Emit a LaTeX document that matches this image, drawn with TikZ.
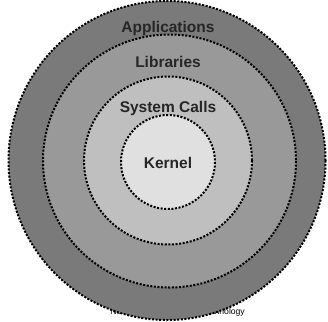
\documentclass[tikz,border=0pt]{standalone}
\usepackage{fontspec}
\setmainfont{Liberation Sans}
\begin{document}
\begin{tikzpicture}[x=1pt,y=-1pt,
  ring/.style={draw=black,line width=2pt,dash pattern=on 2pt off 1.6pt},
  lab/.style={font=\bfseries\fontsize{15.5}{18}\selectfont,text=black!85}]
\useasboundingbox (0,0) rectangle (328,321);
\node[font=\fontsize{8.6}{9}\selectfont,anchor=base east,inner sep=0pt] (foot) at (245,314) {Network and Computer Technology};
\filldraw[ring,fill=black!52] (167,160.5) ellipse [x radius=158.5,y radius=159.5];
\filldraw[ring,fill=black!40] (169.5,161) circle (126.5);
\filldraw[ring,fill=black!25] (168,160.5) circle (84);
\filldraw[ring,fill=black!12] (168,162) circle (47);
\node[lab] (app) at (168,28.5) {Applications};
\node[lab] (lib) at (168,62) {Libraries};
\node[lab] (sys) at (168,108.5) {System Calls};
\node[lab] (ker) at (168,163) {Kernel};
\end{tikzpicture}
\end{document}
